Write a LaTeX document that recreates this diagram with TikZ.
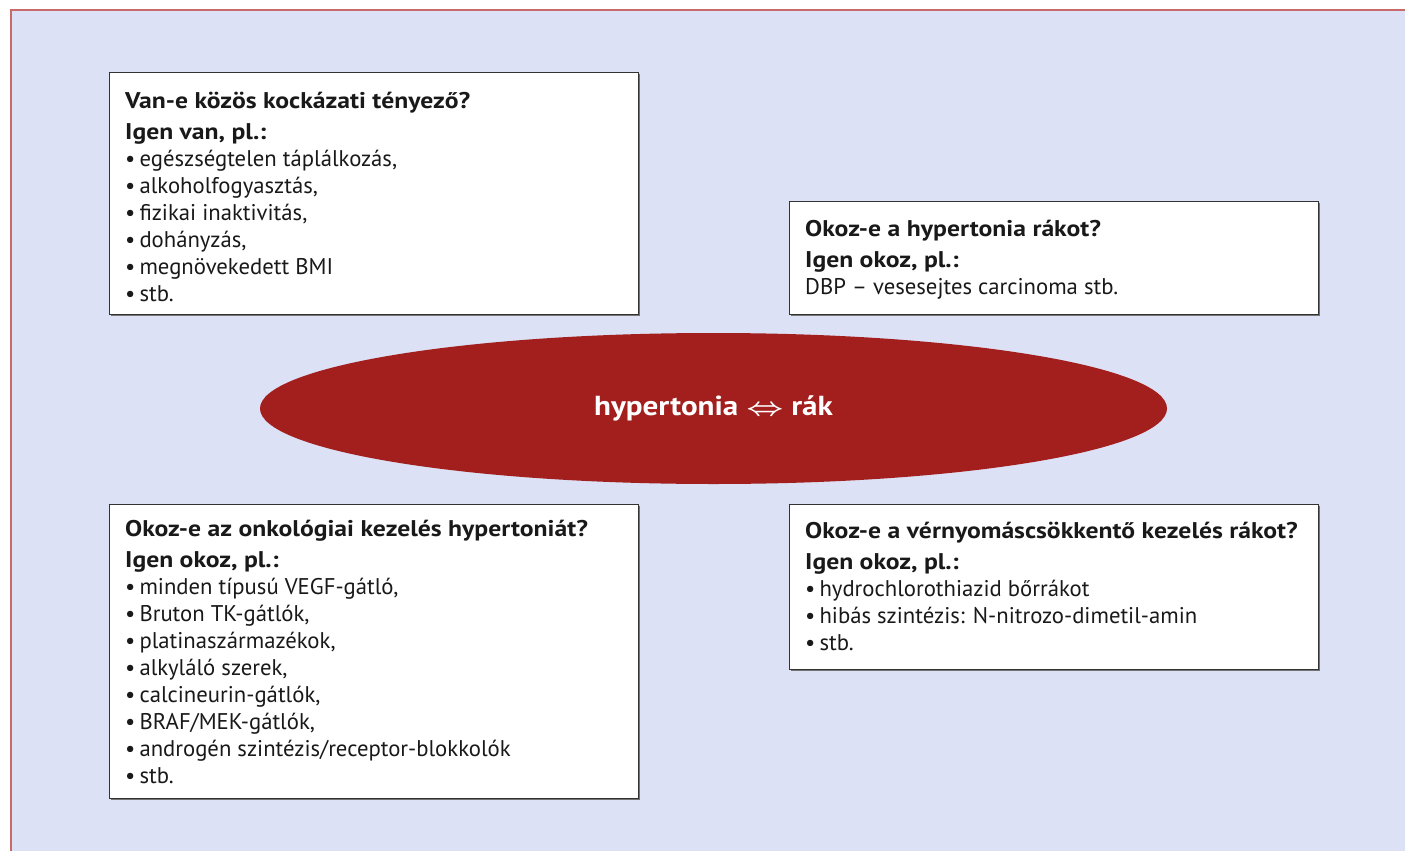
\documentclass[tikz,border=0pt]{standalone}
\usepackage{amsmath}
\usepackage{fontspec}
\setmainfont{PT Sans}[BoldFeatures={FakeStretch=1.13}]
\usetikzlibrary{shapes.geometric}
\definecolor{bgfill}{HTML}{DDE1F5}
\definecolor{framered}{HTML}{C86A6A}
\definecolor{ellred}{HTML}{A21F1D}
\newcommand{\bitem}{\textbullet\hspace{0.18em}}
\tikzset{
  infobox/.style={draw=black!80, fill=white, line width=1.3pt, rectangle, inner sep=0pt, anchor=north west},
  boxshadow/.style={fill=black!55},
  infotext/.style={anchor=north west, inner sep=0pt, align=left, font=\fontsize{22.7}{27}\selectfont, text=black!90},
  centerell/.style={ellipse, fill=ellred, inner sep=0pt, text=white, font=\fontsize{27.5}{31}\selectfont\bfseries},
}
\begin{document}
\begin{tikzpicture}[x=1pt,y=-1pt]
\useasboundingbox (0,0) rectangle (1405,851);
\fill[bgfill] (11,10) rectangle (1405,851);
\draw[framered, line width=2pt] (11,851) -- (11,10) -- (1405,10);

% shadows
\fill[boxshadow] (111,74) rectangle (640,316);
\fill[boxshadow] (791,203) rectangle (1320,316);
\fill[boxshadow] (111,506) rectangle (640,800);
\fill[boxshadow] (791,506) rectangle (1320,671);

\node[infobox, minimum width=529pt, minimum height=242pt] (b1) at (109,72) {};
\node[infobox, minimum width=529pt, minimum height=113pt] (b2) at (789,201) {};
\node[infobox, minimum width=529pt, minimum height=294pt] (b3) at (109,504) {};
\node[infobox, minimum width=529pt, minimum height=165pt] (b4) at (789,504) {};

\node[infotext] (t1) at (125,92) {\textbf{Van-e közös kockázati tényező?}\\[4pt]
\textbf{Igen van, pl.:}\\
\bitem egészségtelen táplálkozás,\\
\bitem alkoholfogyasztás,\\
\bitem fizikai inaktivitás,\\
\bitem dohányzás,\\
\bitem megnövekedett BMI\\
\bitem stb.};

\node[infotext] (t2) at (805,220) {\textbf{Okoz-e a hypertonia rákot?}\\[4pt]
\textbf{Igen okoz, pl.:}\\
DBP -- vesesejtes carcinoma stb.};

\node[infotext] (t3) at (125,520) {\textbf{Okoz-e az onkológiai kezelés hypertoniát?}\\[4pt]
\textbf{Igen okoz, pl.:}\\
\bitem minden típusú VEGF-gátló,\\
\bitem Bruton TK-gátlók,\\
\bitem platinaszármazékok,\\
\bitem alkyláló szerek,\\
\bitem calcineurin-gátlók,\\
\bitem BRAF/MEK-gátlók,\\
\bitem androgén szintézis/receptor-blokkolók\\
\bitem stb.};

\node[infotext] (t4) at (805,522) {\textbf{Okoz-e a vérnyomáscsökkentő kezelés rákot?}\\[4pt]
\textbf{Igen okoz, pl.:}\\
\bitem hydrochlorothiazid bőrrákot\\
\bitem hibás szintézis: N-nitrozo-dimetil-amin\\
\bitem stb.};

\node[centerell, minimum width=907pt, minimum height=151pt] (core) at (713.5,408.5) {hypertonia \scalebox{1.3}[1]{$\boldsymbol{\Leftrightarrow}$} rák};
\end{tikzpicture}
\end{document}
